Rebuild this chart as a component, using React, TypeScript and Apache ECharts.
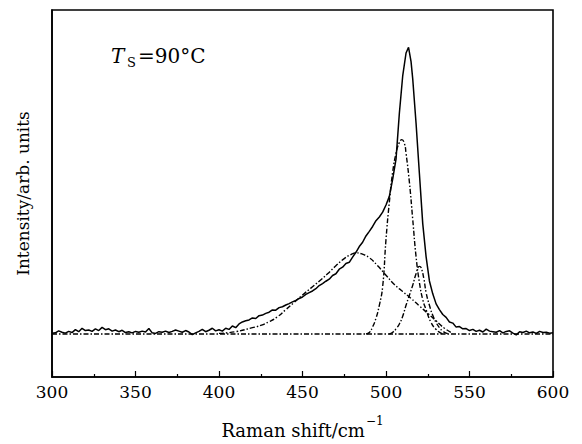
import React, { useEffect, useRef } from "react";
import * as echarts from "echarts";

// Measured spectrum (solid line)
const measuredX = [
  300, 302, 304, 306, 308, 310, 312, 314, 316, 318, 320, 322, 324, 326, 328, 330, 332, 334, 336, 338,
  340, 342, 344, 346, 348, 350, 352, 354, 356, 358, 360, 362, 364, 366, 368, 370, 372, 374, 376, 378,
  380, 382, 384, 386, 388, 390, 392, 394, 396, 398, 400, 402, 404, 406, 408, 410, 412, 414, 416, 418,
  420, 422, 424, 426, 428, 430, 432, 434, 436, 438, 440, 442, 444, 446, 448, 450, 452, 454, 456, 458,
  460, 462, 464, 466, 468, 470, 472, 474, 476, 478, 480, 482, 484, 486, 488, 490, 492, 494, 496, 498,
  500, 502, 504, 506, 508, 510, 512, 513.5, 515, 516, 518, 520, 522, 524, 526, 528, 530, 532, 534, 536,
  538, 540, 542, 544, 546, 548, 550, 552, 554, 556, 558, 560, 562, 564, 566, 568, 570, 572, 574, 576,
  578, 580, 582, 584, 586, 588, 590, 592, 594, 596, 598, 600,
];
const measuredY = [
  0.3, 0.4, 1.1, 0.6, 0.3, 0.9, 0.5, 1.5, 0.8, 2.0, 1.2, 1.4, 0.9, 1.8, 1.2, 2.3, 1.5, 1.8, 1.0, 1.4,
  0.8, 1.3, 0.5, 0.8, 0.4, 0.9, 0.6, 1.0, 0.7, 1.9, 0.4, 0.2, 0.8, 0.6, 1.0, 0.5, 0.9, 1.4, 1.0, 0.6,
  1.2, 0.7, -0.2, 0.4, 0.9, 1.6, 0.8, 1.3, 2.0, 1.1, 1.5, 1.0, 2.0, 1.6, 2.8, 2.2, 3.5, 4.2, 4.6, 4.9,
  5.6, 5.4, 6.4, 6.6, 7.2, 7.6, 8.4, 8.3, 9.2, 9.5, 10.1, 10.6, 11.2, 11.7, 12.4, 12.9, 13.8, 14.4, 15.0, 15.8,
  16.9, 17.6, 18.4, 19.1, 20.4, 21.0, 22.6, 23.3, 24.6, 25.0, 26.8, 28.5, 30.5, 32.0, 34.2, 35.8, 37.5, 39.5, 40.8, 42.5,
  45.0, 48.0, 54.0, 61.0, 77.0, 90.0, 98.0, 100.0, 95.0, 89.0, 73.5, 56.0, 38.5, 27.0, 18.5, 14.0, 10.5, 8.5, 6.8, 5.8,
  4.2, 3.8, 2.4, 2.6, 1.8, 1.9, 1.2, 1.6, 0.9, 1.3, 0.7, 1.7, 1.0, 0.8, 0.6, 1.2, 0.4, 0.9, 1.1, 0.3,
  -0.3, 0.8, 0.5, 1.0, 0.4, 0.7, 0.2, 0.9, 0.5, 0.6, 0.3, 0.4,
];

// Fitted component: broad band (dash-dot)
const broadX = [400, 410, 420, 425, 430, 435, 440, 445, 450, 455, 460, 465, 470, 475, 480, 482, 485, 490, 495, 500, 505, 510, 515, 520, 525, 530, 535, 540];
const broadY = [0.2, 0.8, 2.2, 3.0, 4.3, 6.0, 8.5, 11.0, 13.6, 16.0, 18.4, 21.0, 23.8, 26.3, 28.0, 28.3, 28.0, 26.6, 23.8, 20.5, 17.3, 14.8, 12.4, 9.8, 7.2, 4.6, 2.0, 0.2];

// Fitted component: main crystalline peak (dash-dot)
const mainX = [488, 490, 492, 494, 496, 498, 500, 502, 504, 506, 508, 509.5, 511, 512, 514, 516, 518, 520, 522, 524, 527, 530, 533, 535];
const mainY = [0, 0.5, 2.5, 5.5, 10.0, 16.5, 33.0, 46.0, 56.5, 63.0, 66.8, 67.8, 66.5, 63.0, 53.0, 40.0, 27.0, 18.0, 12.0, 8.5, 4.0, 1.6, 0.3, 0];

// Fitted component: small peak (dash-dot)
const smallX = [502, 504, 506, 508, 510, 512, 514, 516, 518, 520, 521, 522.7, 524, 526, 528, 530, 532, 534, 536, 538];
const smallY = [0, 0.6, 1.8, 3.5, 6.2, 10.0, 13.5, 17.0, 21.0, 23.6, 23.2, 19.2, 14.5, 10.0, 6.5, 4.0, 2.2, 1.0, 0.3, 0];

// Baseline (dash-dot)
const baseX = [300, 600];
const baseY = [0, 0];

const xTicks = [300, 350, 400, 450, 500, 550, 600];

const pairs = (xs: number[], ys: number[]) => xs.map((x, i) => [x, ys[i]]);

const FONT = "DejaVu Serif";
const DASHDOT = [5, 2, 1.5, 2];

export default function App() {
  const ref = useRef<HTMLDivElement>(null);
  useEffect(() => {
    if (!ref.current) return;
    const chart = echarts.init(ref.current, undefined, { renderer: "svg" });
    const dashLine = (name: string, xs: number[], ys: number[], smooth: boolean) => ({
      name,
      type: "line",
      data: pairs(xs, ys),
      showSymbol: false,
      smooth,
      lineStyle: { color: "#000", width: 1.4, type: DASHDOT },
      z: 2,
    });
    chart.setOption({
      animation: false,
      backgroundColor: "#fff",
      grid: {
        left: 52,
        right: 29,
        top: 10,
        bottom: 61,
        show: true,
        borderColor: "#000",
        borderWidth: 1.6,
        backgroundColor: "transparent",
      },
      xAxis: {
        type: "value",
        min: xTicks[0],
        max: xTicks[xTicks.length - 1],
        interval: 50,
        name: "{n|Raman shift/cm}{s|−1}",
        nameLocation: "middle",
        nameGap: 38,
        nameTextStyle: {
          rich: {
            n: { fontFamily: FONT, fontSize: 18, color: "#000", verticalAlign: "bottom", lineHeight: 24 },
            s: { fontFamily: FONT, fontSize: 12, color: "#000", verticalAlign: "top", lineHeight: 24, padding: [0, 0, 8, 1] },
          },
        },
        axisLine: { show: true, onZero: false, lineStyle: { color: "#000", width: 1.6 } },
        axisTick: { show: true, inside: true, length: 6, lineStyle: { color: "#000", width: 1.2 } },
        minorTick: { show: true, splitNumber: 2, length: 3, lineStyle: { color: "#000", width: 1.2 } },
        axisLabel: { color: "#000", fontFamily: FONT, fontSize: 17, margin: 6 },
        splitLine: { show: false },
        minorSplitLine: { show: false },
      },
      yAxis: {
        type: "value",
        min: -15,
        max: 113,
        name: "Intensity/arb. units",
        nameLocation: "middle",
        nameGap: 21,
        nameTextStyle: { fontFamily: FONT, fontSize: 17, color: "#000" },
        axisLine: { show: true, lineStyle: { color: "#000", width: 1.6 } },
        axisTick: { show: false },
        axisLabel: { show: false },
        splitLine: { show: false },
      },
      graphic: [
        {
          type: "text",
          left: 111,
          top: 46,
          style: { text: "T", fontFamily: FONT, fontStyle: "italic", fontSize: 20, fill: "#000" },
        },
        {
          type: "text",
          left: 127,
          top: 56,
          style: { text: "S", fontFamily: FONT, fontSize: 13, fill: "#000" },
        },
        {
          type: "text",
          left: 138,
          top: 46,
          style: { text: "=90°C", fontFamily: FONT, fontSize: 20, fill: "#000" },
        },
      ],
      series: [
        dashLine("baseline", baseX, baseY, false),
        dashLine("broad", broadX, broadY, true),
        dashLine("main", mainX, mainY, true),
        dashLine("small", smallX, smallY, true),
        {
          name: "measured",
          type: "line",
          data: pairs(measuredX, measuredY),
          showSymbol: false,
          lineStyle: { color: "#000", width: 1.5 },
          z: 3,
        },
      ],
    });
    return () => chart.dispose();
  }, []);
  return (
    <div
      ref={ref}
      style={{ position: "absolute", left: 0, top: 0, width: 582, height: 444, background: "#fff" }}
    />
  );
}
